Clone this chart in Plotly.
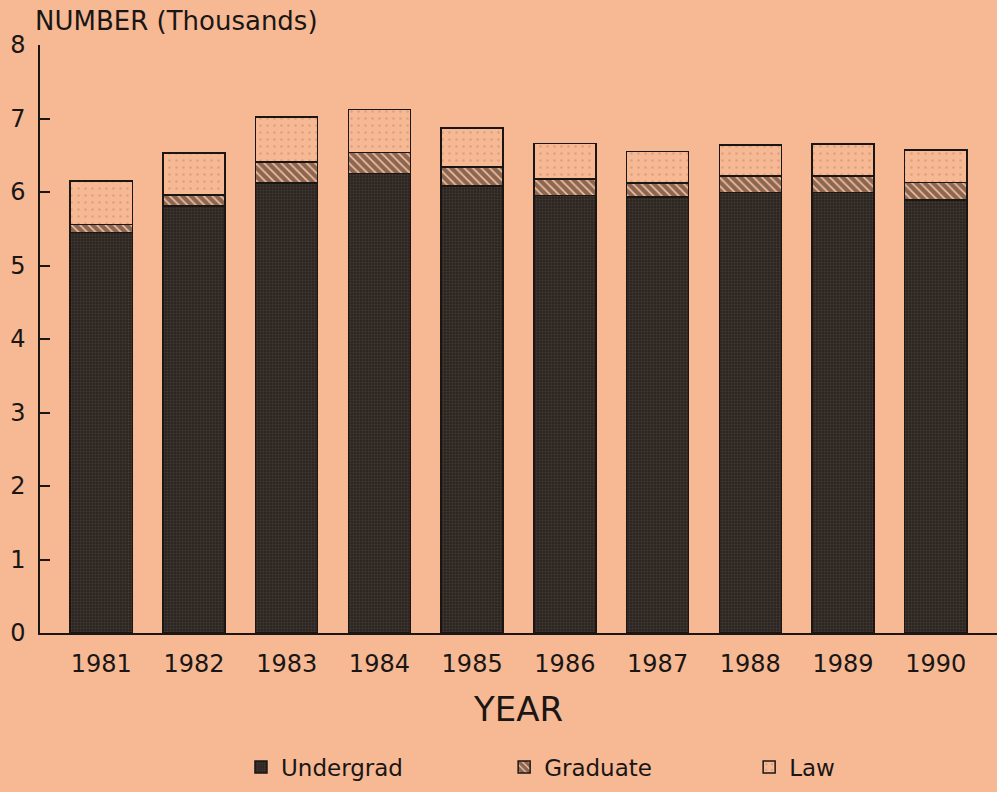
import plotly.graph_objects as go

years = ["1981", "1982", "1983", "1984", "1985", "1986", "1987", "1988", "1989", "1990"]
# thousands (segment heights, stacked)
undergrad = [5.45, 5.81, 6.12, 6.25, 6.08, 5.95, 5.93, 5.99, 5.99, 5.89]
graduate = [0.11, 0.15, 0.29, 0.29, 0.26, 0.23, 0.19, 0.23, 0.23, 0.24]
law = [0.59, 0.57, 0.61, 0.58, 0.53, 0.48, 0.43, 0.42, 0.43, 0.44]

BG = "#F6B994"
INK = "#1a1614"
FONT = "DejaVu Sans"

fig = go.Figure()
fig.add_trace(
    go.Bar(
        x=years,
        y=undergrad,
        name="Undergrad",
        legend="legend",
        marker=dict(
            color="#2d2622",
            line=dict(color=INK, width=1.5),
            pattern=dict(shape=".", fgcolor="#5e524a", bgcolor="#2b2420", size=3, solidity=0.3),
        ),
    )
)
fig.add_trace(
    go.Bar(
        x=years,
        y=graduate,
        name="Graduate",
        legend="legend2",
        marker=dict(
            color=BG,
            line=dict(color=INK, width=1.5),
            pattern=dict(shape="\\", fgcolor=INK, bgcolor=BG, size=6, solidity=0.7),
        ),
    )
)
fig.add_trace(
    go.Bar(
        x=years,
        y=law,
        name="Law",
        legend="legend3",
        marker=dict(
            color=BG,
            line=dict(color=INK, width=1.5),
            pattern=dict(shape=".", fgcolor="#c08b70", bgcolor=BG, size=7, solidity=0.12),
        ),
    )
)

# one small legend per series, placed like the original's key row
legend_style = dict(
    orientation="h",
    xanchor="left",
    y=-0.228,
    yanchor="middle",
    font=dict(size=23),
    bgcolor="rgba(0,0,0,0)",
)

fig.update_layout(
    barmode="stack",
    bargap=0.33,
    width=997,
    height=792,
    paper_bgcolor=BG,
    plot_bgcolor=BG,
    font=dict(family=FONT, color=INK, size=24),
    margin=dict(l=40, r=0, t=45, b=159),
    title=dict(
        text="NUMBER (Thousands)",
        font=dict(size=26, family=FONT, color=INK),
        x=35 / 997,
        xref="container",
        xanchor="left",
        y=1 - 21 / 792,
        yref="container",
        yanchor="middle",
    ),
    legend=dict(x=0.210, **legend_style),
    legend2=dict(x=0.485, **legend_style),
    legend3=dict(x=0.741, **legend_style),
    showlegend=True,
)
fig.update_xaxes(
    showline=True,
    linecolor=INK,
    linewidth=1.5,
    showgrid=False,
    ticks="",
    ticklabelstandoff=8,
    range=[-0.66, 9.66],
    title=dict(text="YEAR", font=dict(size=34), standoff=21),
)
fig.update_yaxes(
    range=[0, 8],
    dtick=1,
    showline=True,
    linecolor=INK,
    linewidth=1.5,
    showgrid=False,
    zeroline=False,
    ticks="inside",
    ticklen=10,
    tickwidth=1.5,
    tickcolor=INK,
    ticklabelstandoff=8,
)

fig.write_html(
    "out.html",
    config={"displayModeBar": False},
    post_script="document.body.style.margin='0';",
)
